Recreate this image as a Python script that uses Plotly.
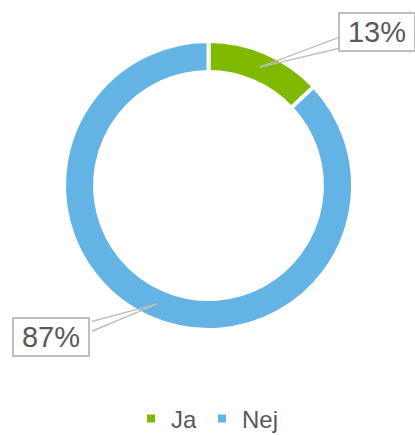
import math
import plotly.graph_objects as go

labels = ["Ja", "Nej"]
values = [13, 87]
colors = ["#7FBA00", "#63B4E4"]
label_text = ["13%", "87%"]

W, H = 415, 435
cx, cy, R = 208.5, 185.5, 144.5
hole = 0.785

fig = go.Figure(go.Pie(
    labels=labels, values=values, sort=False, direction="clockwise", rotation=0,
    hole=hole, textinfo="none", hoverinfo="label+percent",
    marker=dict(colors=colors, line=dict(color="white", width=4)),
    domain=dict(x=[(cx - R) / W, (cx + R) / W], y=[1 - (cy + R) / H, 1 - (cy - R) / H]),
))

# callout tips at middle of each ring slice
total = sum(values)
box_offsets = [(117, -35), (-106, 33)]
wedge_bases = [[(80, -30), (80, -19)], [(-67, 18), (-67, 28)]]
cum = 0
wedges, boxes = [], []
rmid = 129
for v, t, (ax, ay), bases in zip(values, label_text, box_offsets, wedge_bases):
    mid = (cum + v / 2) / total * 2 * math.pi
    cum += v
    px = cx + rmid * math.sin(mid)
    py = cy - rmid * math.cos(mid)
    for bx, by in bases:
        wedges.append(dict(
            x=px / W, y=1 - py / H, xref="paper", yref="paper", text="",
            showarrow=True, arrowhead=0, arrowwidth=1.5, arrowcolor="#BFBFBF",
            ax=bx, ay=by, font=dict(size=1),
        ))
    boxes.append(dict(
        x=px / W, y=1 - py / H, xref="paper", yref="paper",
        text=t, showarrow=True, arrowhead=0, arrowwidth=0.1, arrowcolor="rgba(0,0,0,0)",
        ax=ax, ay=ay, bgcolor="white", bordercolor="#BFBFBF", borderwidth=2,
        borderpad=3, width=68, height=30, align="center", valign="middle",
        font=dict(family="Liberation Sans, Arial", size=29, color="#595959"),
    ))

fig.update_layout(
    width=W, height=H, margin=dict(l=0, r=0, t=0, b=0, autoexpand=False),
    paper_bgcolor="white", plot_bgcolor="white",
    annotations=wedges + boxes,
    showlegend=True,
    legend=dict(orientation="h", x=0.5, xanchor="center", y=1 - 419 / H, yanchor="middle",
                font=dict(family="Liberation Sans, Arial", size=24, color="#595959"),
                itemwidth=30),
)

fig.write_html("out.html", config={"displayModeBar": False},
               post_script="document.body.style.margin='0';document.body.style.overflow='hidden';")
